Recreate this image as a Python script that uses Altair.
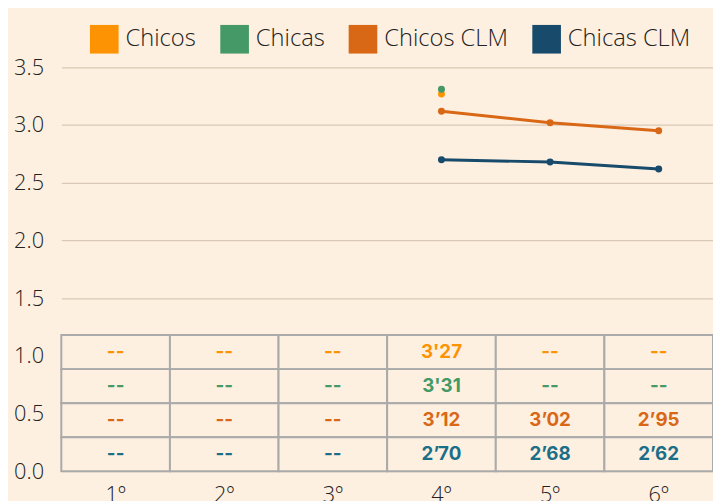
import altair as alt
import pandas as pd

categories = ["1º", "2º", "3º", "4º", "5º", "6º"]
series = ["Chicos", "Chicas", "Chicos CLM", "Chicas CLM"]
chicos = [None, None, None, 3.27, None, None]
chicas = [None, None, None, 3.31, None, None]
chicos_clm = [None, None, None, 3.12, 3.02, 2.95]
chicas_clm = [None, None, None, 2.70, 2.68, 2.62]

chicos_txt = ["--", "--", "--", "3'27", "--", "--"]
chicas_txt = ["--", "--", "--", "3'31", "--", "--"]
chicos_clm_txt = ["--", "--", "--", "3’12", "3’02", "2’95"]
chicas_clm_txt = ["--", "--", "--", "2’70", "2’68", "2’62"]

colors = ["#fd9302", "#449966", "#d96816", "#184a6b"]
text_colors = ["#fd9302", "#449966", "#d96816", "#1a6e88"]
y_ticks = [0, 0.5, 1.0, 1.5, 2.0, 2.5, 3.0, 3.5]

BG = "#fef0e1"
TABLE_TOP = 1.18
ROW_H = 0.295

values = [chicos, chicas, chicos_clm, chicas_clm]
texts = [chicos_txt, chicas_txt, chicos_clm_txt, chicas_clm_txt]

rows = []
for s, vals in zip(series, values):
    for c, v in zip(categories, vals):
        if v is not None:
            rows.append({"curso": c, "serie": s, "valor": v})
df = pd.DataFrame(rows)

cells = []
for i, (s, tx) in enumerate(zip(series, texts)):
    top = TABLE_TOP - i * ROW_H
    for c, t in zip(categories, tx):
        cells.append({"curso": c, "serie": s, "txt": t, "y": top, "y2": top - ROW_H,
                      "ym": top - ROW_H / 2})
cells_df = pd.DataFrame(cells)

xscale = alt.Scale(domain=categories, paddingInner=0, paddingOuter=0)
yscale = alt.Scale(domain=[0, 3.5], nice=False)
cscale = alt.Scale(domain=series, range=colors)

legend = alt.Legend(title=None, orient="none", direction="horizontal",
                    legendX=29, legendY=-43, symbolType="square",
                    symbolSize=841, symbolStrokeWidth=0, symbolOpacity=1,
                    labelFont="Open Sans", labelFontSize=24,
                    labelFontWeight=300, labelColor="#222222",
                    labelOffset=7, columnPadding=24)

xenc = alt.X("curso:N", scale=xscale, sort=categories,
             axis=alt.Axis(title=None, labelAngle=0, ticks=False, domain=False, grid=False,
                           labelFont="Open Sans", labelFontSize=22, labelColor="#222222",
                           labelPadding=14, labelFontWeight=300))

table = alt.Chart(cells_df).mark_rect(fill=BG, stroke="#aaaaaa", strokeWidth=2).encode(
    x=xenc,
    y=alt.Y("y:Q", scale=yscale,
            axis=alt.Axis(title=None, values=y_ticks, format=".1f", ticks=False, domain=False,
                          gridColor="#d9c9b6", gridWidth=1.2,
                          labelFont="Open Sans", labelFontSize=22, labelColor="#222222",
                          labelPadding=18, labelFontWeight=300)),
    y2="y2:Q",
)

text_layers = []
for s, tc in zip(series, text_colors):
    text_layers.append(
        alt.Chart(cells_df).transform_filter(alt.datum.serie == s)
        .mark_text(font="Inter", fontWeight="bold", fontSize=19, baseline="middle", color=tc)
        .encode(
            x=alt.X("curso:N", scale=xscale, sort=categories),
            y=alt.Y("ym:Q", scale=yscale),
            text="txt:N",
        )
    )

points = alt.Chart(df).mark_point(filled=True, size=50, opacity=1).encode(
    x=alt.X("curso:N", scale=xscale, sort=categories),
    y=alt.Y("valor:Q", scale=yscale),
    color=alt.Color("serie:N", scale=cscale, sort=series, legend=legend),
)

lines = alt.Chart(df).mark_line(strokeWidth=3).encode(
    x=alt.X("curso:N", scale=xscale, sort=categories),
    y=alt.Y("valor:Q", scale=yscale),
    color=alt.Color("serie:N", scale=cscale, sort=series, legend=legend),
    detail="serie:N",
)

chart = alt.layer(table, *text_layers, lines, points).properties(
    width=660, height=409, background=BG,
    autosize=alt.AutoSizeParams(type="none"),
    padding={"left": 54, "top": 57, "right": 0, "bottom": 27},
).configure_view(stroke=None)

chart.save("out.html", embed_options={"renderer": "svg", "actions": False})
